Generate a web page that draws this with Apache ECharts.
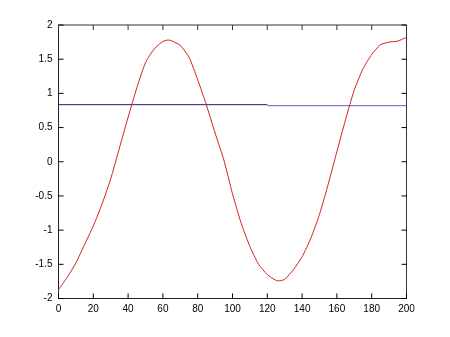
<!DOCTYPE html>
<html>
<head>
<meta charset="utf-8">
<script src="https://cdn.jsdelivr.net/npm/echarts@6/dist/echarts.min.js"></script>
<style>
html,body{margin:0;padding:0;background:#fff;}
#chart{width:450px;height:337px;}
</style>
</head>
<body>
<div id="chart"></div>
<script>
// Data
var redX = [0,5,10,15,20,25,30,35,40,45,50,55,60,63,65,70,75,80,85,90,95,100,105,110,115,120,125,127,130,135,140,145,150,155,160,165,170,175,180,185,190,195,200];
var redY = [-1.87,-1.69,-1.48,-1.21,-0.94,-0.62,-0.25,0.20,0.65,1.08,1.45,1.65,1.76,1.78,1.77,1.70,1.53,1.20,0.83,0.42,0.03,-0.47,-0.90,-1.24,-1.50,-1.65,-1.735,-1.74,-1.72,-1.58,-1.39,-1.12,-0.77,-0.33,0.15,0.62,1.05,1.36,1.57,1.71,1.75,1.765,1.82];
var blue1X = [0,120];
var blue1Y = [0.835,0.835];
var blue2X = [120,200];
var blue2Y = [0.82,0.82];
var xTicks = [0,20,40,60,80,100,120,140,160,180,200];
var yTicks = [-2,-1.5,-1,-0.5,0,0.5,1,1.5,2];

function pairs(xs, ys){ return xs.map(function(x,i){ return [x, ys[i]]; }); }

var chart = echarts.init(document.getElementById('chart'));
var font = {fontFamily:'Liberation Sans, Arial, sans-serif', fontSize:10, color:'#000'};
var xMin = xTicks[0], xMax = xTicks[xTicks.length-1];
var yMin = yTicks[0], yMax = yTicks[yTicks.length-1];
chart.setOption({
  animation:false,
  backgroundColor:'#fff',
  grid:{left:58.5, right:43.5, top:25, bottom:38.5, show:true, borderColor:'#333', borderWidth:1, backgroundColor:'transparent'},
  xAxis:[{type:'value', min:xMin, max:xMax, interval:20,
     axisLine:{show:true, onZero:false, lineStyle:{color:'#222', width:1}}, axisTick:{show:false},
     axisLabel:Object.assign({margin:6, showMinLabel:true, showMaxLabel:true, hideOverlap:false}, font),
     splitLine:{show:false}}],
  yAxis:[{type:'value', min:yMin, max:yMax, interval:0.5,
     axisLine:{show:true, onZero:false, lineStyle:{color:'#222', width:1}}, axisTick:{show:false},
     axisLabel:Object.assign({margin:6, showMinLabel:true, showMaxLabel:true}, font),
     splitLine:{show:false}}],
  series:[
    {type:'line', data:pairs(blue1X, blue1Y), showSymbol:false, lineStyle:{color:'#1c1c8c', width:1}, itemStyle:{color:'#1c1c8c'}, z:2},
    {type:'line', data:pairs(blue2X, blue2Y), showSymbol:false, lineStyle:{color:'#5a5ad0', width:1}, itemStyle:{color:'#5a5ad0'}, z:2},
    {type:'line', data:pairs(redX, redY), showSymbol:false, smooth:0.2, lineStyle:{color:'#d42020', width:1}, itemStyle:{color:'#d42020'}, z:3}
  ]
});

// Inward tick marks on all four sides, positioned through the chart's own scales
var L = 5, els = [];
var c0 = chart.convertToPixel({xAxisIndex:0, yAxisIndex:0}, [xMin, yMin]);
var c1 = chart.convertToPixel({xAxisIndex:0, yAxisIndex:0}, [xMax, yMax]);
var xLeft = c0[0], yBot = c0[1], xRight = c1[0], yTop = c1[1];
xTicks.forEach(function(v){
  var px = chart.convertToPixel({xAxisIndex:0}, v);
  els.push({type:'line', shape:{x1:px, y1:yBot, x2:px, y2:yBot - L}, style:{stroke:'#000', lineWidth:1}, z:100});
  els.push({type:'line', shape:{x1:px, y1:yTop, x2:px, y2:yTop + L}, style:{stroke:'#333', lineWidth:1}, z:100});
});
yTicks.forEach(function(v){
  var py = chart.convertToPixel({yAxisIndex:0}, v);
  els.push({type:'line', shape:{x1:xLeft, y1:py, x2:xLeft + L, y2:py}, style:{stroke:'#000', lineWidth:1}, z:100});
  els.push({type:'line', shape:{x1:xRight, y1:py, x2:xRight - L, y2:py}, style:{stroke:'#000', lineWidth:1}, z:100});
});
chart.setOption({graphic:{elements:els}});
</script>
</body>
</html>
